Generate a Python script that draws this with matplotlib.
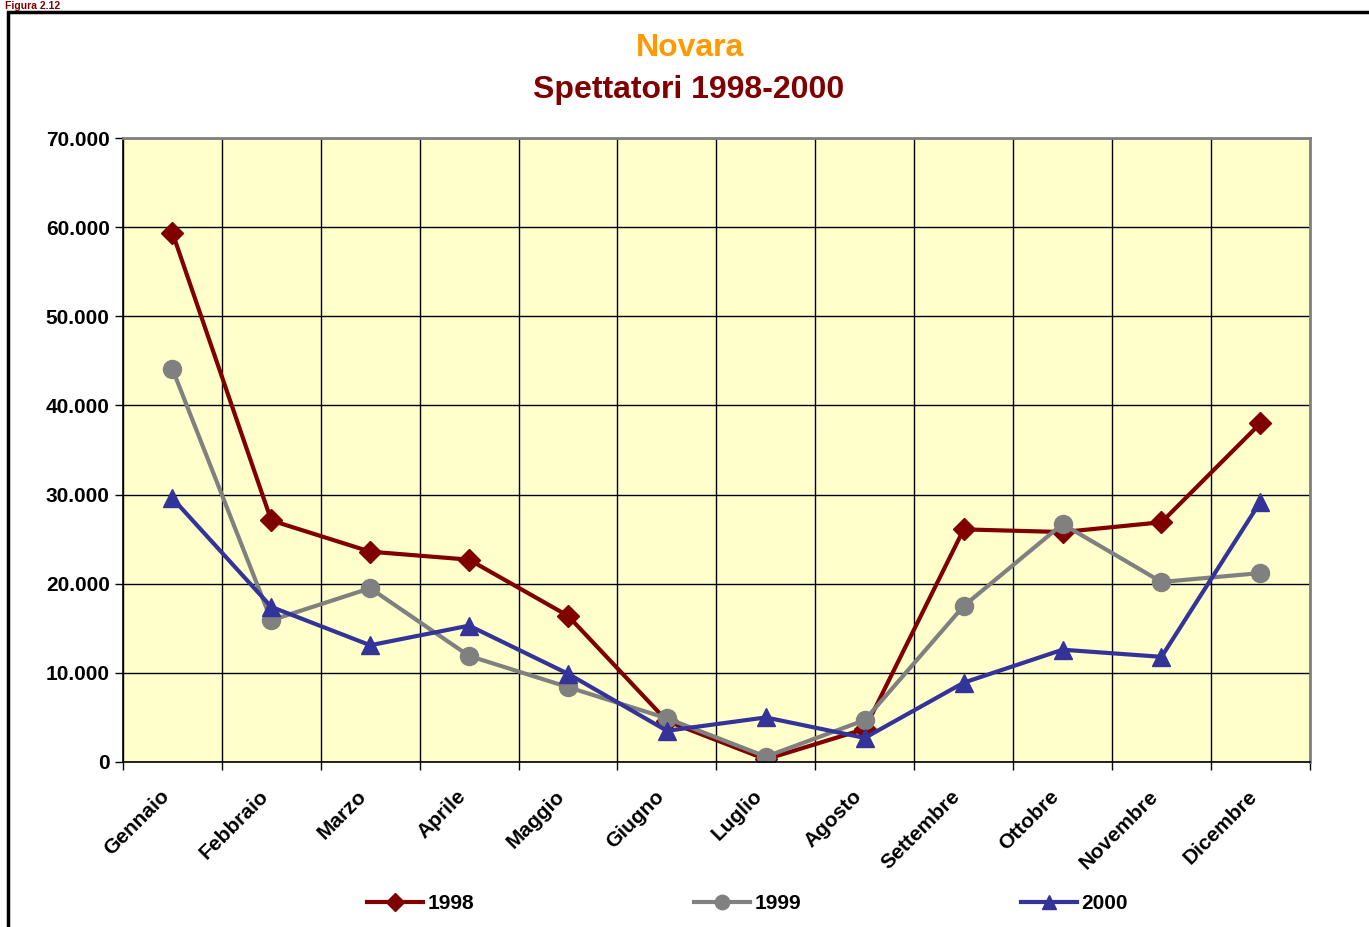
import matplotlib.pyplot as plt
from matplotlib.patches import Rectangle
from matplotlib.ticker import FuncFormatter
from matplotlib.transforms import ScaledTranslation

plt.rcParams['font.family'] = ['Liberation Sans', 'DejaVu Sans']

mesi = ['Gennaio', 'Febbraio', 'Marzo', 'Aprile', 'Maggio', 'Giugno',
        'Luglio', 'Agosto', 'Settembre', 'Ottobre', 'Novembre', 'Dicembre']
spett_1998 = [59400, 27100, 23600, 22700, 16400, 4600, 300, 3700, 26100, 25800, 26900, 38000]
spett_1999 = [44100, 15900, 19500, 11900, 8400, 4900, 600, 4700, 17500, 26700, 20200, 21200]
spett_2000 = [29600, 17400, 13100, 15300, 9900, 3500, 5000, 2700, 8900, 12600, 11800, 29200]
anni = ['1998', '1999', '2000']

fig = plt.figure(figsize=(13.69, 9.27), dpi=100)
ax = fig.add_axes([0.0898, 0.178, 0.867, 0.673])
ax.set_facecolor('#FFFFCC')

x = list(range(len(mesi)))
ax.plot(x, spett_1998, color='#800000', lw=3, marker='D', ms=11, label=anni[0])
ax.plot(x, spett_1999, color='#808080', lw=3, marker='o', ms=13, label=anni[1])
ax.plot(x, spett_2000, color='#333399', lw=3, marker='^', ms=13, label=anni[2])

ax.set_xlim(-0.5, len(mesi) - 0.5)
ax.set_ylim(0, 70000)

# gridlines / tick marks on category boundaries, labels at centres
ax.set_xticks([i - 0.5 for i in range(len(mesi) + 1)])
ax.set_xticklabels([])
ax.set_xticks(x, minor=True)
ax.set_xticklabels(mesi, minor=True, rotation=45, ha='right', va='top',
                   fontsize=15, fontweight='bold', rotation_mode='anchor')
ax.tick_params(axis='x', which='minor', length=0, pad=14)
ax.tick_params(axis='x', which='major', length=6, width=1)
shift = ScaledTranslation(-0.13, -0.05, fig.dpi_scale_trans)
for t in ax.get_xticklabels(minor=True):
    t.set_transform(t.get_transform() + shift)

ax.set_yticks(range(0, 70001, 10000))
ax.yaxis.set_major_formatter(FuncFormatter(lambda v, p: f'{int(v):,}'.replace(',', '.')))
ax.tick_params(axis='y', length=6, width=1, labelsize=15)
for t in ax.get_yticklabels():
    t.set_fontweight('bold')

ax.grid(True, which='major', color='black', lw=1)
ax.set_axisbelow(True)
for s in ['left', 'bottom']:
    ax.spines[s].set_linewidth(1.2)
ax.spines['top'].set_color('#808080')
ax.spines['right'].set_color('#808080')
ax.spines['top'].set_linewidth(2)
ax.spines['right'].set_linewidth(2)

fig.text(0.504, 0.948, 'Novara', ha='center', va='center', fontsize=23,
         fontweight='bold', color='#FF9900')
fig.text(0.503, 0.903, 'Spettatori 1998-2000', ha='center', va='center', fontsize=23,
         fontweight='bold', color='#800000')
fig.text(0.004, 0.999, 'Figura 2.12', ha='left', va='top', fontsize=7.5,
         fontweight='bold', color='#800000')

fig.patches.append(Rectangle((8 / 1369, -0.1), 1.2, 1.1 - 12 / 927, transform=fig.transFigure,
                             fill=False, edgecolor='black', lw=2.5))

leg = fig.legend(loc='center', bbox_to_anchor=(0.546, 0.025), ncol=3, frameon=False,
                 handlelength=2.7, handletextpad=0.2, columnspacing=10.55, markerscale=0.8,
                 prop={'size': 15, 'weight': 'bold'})

fig.savefig('out.png', dpi=100)
